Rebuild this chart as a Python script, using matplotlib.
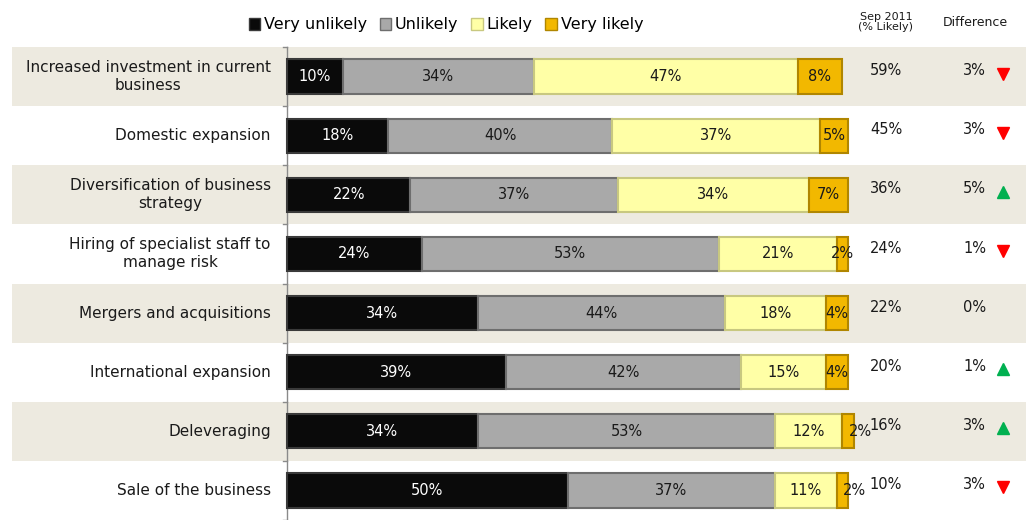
import matplotlib
matplotlib.use("Agg")
import matplotlib.pyplot as plt
from matplotlib.patches import Patch, Rectangle
from matplotlib.lines import Line2D

categories = ["Increased investment in current\nbusiness", "Domestic expansion",
              "Diversification of business\nstrategy", "Hiring of specialist staff to\nmanage risk",
              "Mergers and acquisitions", "International expansion", "Deleveraging",
              "Sale of the business"]
very_unlikely = [10, 18, 22, 24, 34, 39, 34, 50]
unlikely = [34, 40, 37, 53, 44, 42, 53, 37]
likely = [47, 37, 34, 21, 18, 15, 12, 11]
very_likely = [8, 5, 7, 2, 4, 4, 2, 2]
series_names = ["Very unlikely", "Unlikely", "Likely", "Very likely"]
sep2011 = [59, 45, 36, 24, 22, 20, 16, 10]
difference = [3, 3, 5, 1, 0, 1, 3, 3]
direction = ["down", "down", "up", "down", "none", "up", "up", "down"]

colors = ["#0a0a0a", "#a9a9a9", "#ffffa6", "#f2b800"]
edges = ["#3a3a3a", "#6e6e6e", "#c8c880", "#b08600"]
text_colors = ["white", "#1a1a1a", "#1a1a1a", "#1a1a1a"]

W, H = 1026, 520
fig = plt.figure(figsize=(W/100, H/100), dpi=100)
plt.rcParams['font.family'] = ['DejaVu Sans']

px0, px100 = 287, 848
scale = (px100 - px0) / 100.0
top, bottom = 47, 520
ax = fig.add_axes([0, 0, 1, (H - top) / H])
ax.set_xlim(-px0 / scale, (W - px0) / scale)
n = len(categories)
ax.set_ylim(n - 0.5, -0.5)
ax.axis("off")

band_color = "#edeae0"
for i in range(n):
    if i % 2 == 0:
        ax.add_patch(Rectangle(((12 - px0) / scale, i - 0.5), (W - 12) / scale, 1.0,
                               facecolor=band_color, edgecolor="none", zorder=0))

# axis line and ticks
ax.plot([0, 0], [-0.5, n - 0.5], color="#8a8a8a", lw=1, zorder=1, clip_on=False)
for b in range(n + 1):
    ax.plot([-4 / scale, 0], [b - 0.5, b - 0.5], color="#8a8a8a", lw=1, zorder=1, clip_on=False)

data = [very_unlikely, unlikely, likely, very_likely]
bar_h = 0.58
left = [0] * n
for s, vals in enumerate(data):
    ax.barh(range(n), vals, left=left, height=bar_h, color=colors[s],
            edgecolor=edges[s], linewidth=1.5, zorder=2)
    for i, v in enumerate(vals):
        cx = left[i] + v / 2
        if s == 3 and i in (6, 7):
            cx = left[i] + v + 1.2
        ax.text(cx, i, f"{v}%", ha="center", va="center", fontsize=10.5,
                color=text_colors[s], zorder=3)
    left = [l + v for l, v in zip(left, vals)]

for i, c in enumerate(categories):
    ax.text(-2.9, i, c, ha="right", va="center", fontsize=11, color="#1a1a1a",
            linespacing=1.25, multialignment="center")

for i in range(n):
    ax.text((886 - px0) / scale, i - 0.1, f"{sep2011[i]}%", ha="center", va="center",
            fontsize=10.5, color="#1a1a1a")
    ax.text((986 - px0) / scale, i - 0.1, f"{difference[i]}%", ha="right", va="center",
            fontsize=10.5, color="#1a1a1a")
    if direction[i] == "down":
        ax.plot((1003 - px0) / scale, i - 0.05, marker="v", color="#ff0000", markersize=8, ls="none")
    elif direction[i] == "up":
        ax.plot((1003 - px0) / scale, i - 0.05, marker="^", color="#00b050", markersize=8, ls="none")

fig.text(886 / W, 1 - 22 / H, "Sep 2011\n(% Likely)", ha="center", va="center",
         fontsize=8, color="#1a1a1a", linespacing=1.1)
fig.text(975 / W, 1 - 23 / H, "Difference", ha="center", va="center",
         fontsize=9, color="#1a1a1a")

handles = [Patch(facecolor=colors[s], edgecolor=edges[s], label=series_names[s]) for s in range(4)]
fig.legend(handles=handles, loc="center", bbox_to_anchor=(446 / W, 1 - 25 / H), ncol=4,
           frameon=False, fontsize=11.5, handlelength=0.7, handleheight=0.7,
           handletextpad=0.25, columnspacing=0.8)

fig.savefig("out.png", dpi=100)
